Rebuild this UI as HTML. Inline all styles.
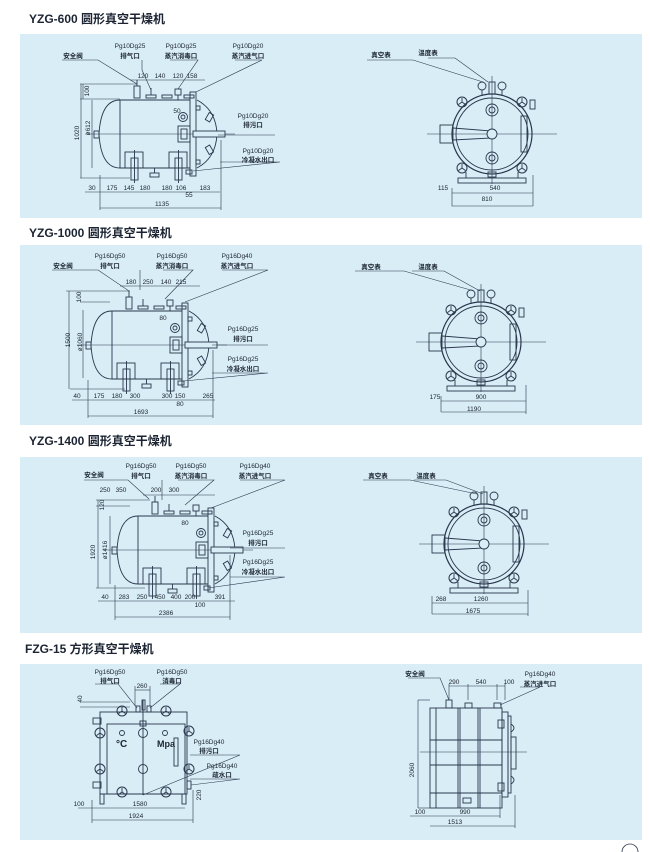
<!DOCTYPE html>
<html><head><meta charset="utf-8">
<style>
html,body{margin:0;padding:0;background:#fff;}
svg{display:block;}
text{font-family:"Liberation Sans","Noto Sans CJK SC",sans-serif;fill:#1c2433;}
.t{font-size:12px;font-weight:bold;}
.s{font-size:6.5px;text-anchor:middle;}
.c{font-size:6.5px;text-anchor:middle;font-weight:bold;}
</style></head><body>
<svg width="650" height="852" viewBox="0 0 650 852" xmlns="http://www.w3.org/2000/svg">
<defs>
<g id="hw"><circle r="5" fill="none" stroke="#2a364d" stroke-width="1"/><path d="M0,0V-4M0,0L3.5,2.5M0,0L-3.5,2.5" stroke="#2a364d" stroke-width="0.9"/></g>
<g id="tank" fill="none" stroke="#2a364d" stroke-width="0.9">
<path d="M120,100 H190 M190,168 H120 Q101,168 99,134 Q101,100 120,100" />
<path d="M197,100 Q216,110 217,134 Q216,158 197,168"/>
<line x1="120" y1="100" x2="120" y2="168"/>
<rect x="190" y="92" width="6" height="84"/>
<line x1="85" y1="134" x2="235" y2="134" stroke-width="0.6"/>
<rect x="193" y="131" width="32" height="6" fill="#d8edf5"/>
<rect x="178" y="126" width="12" height="16"/>
<rect x="181" y="129" width="6" height="10"/>
<circle cx="183" cy="117" r="4.5"/><circle cx="183" cy="117" r="2"/>
<rect x="134" y="86" width="6" height="12"/><line x1="137" y1="80" x2="137" y2="86"/>
<rect x="146" y="95" width="10" height="3"/><line x1="151" y1="88" x2="151" y2="95"/>
<rect x="162" y="95" width="10" height="3"/>
<rect x="175" y="89" width="6" height="6"/><line x1="178" y1="95" x2="178" y2="100"/>
<rect x="184" y="95" width="10" height="3"/>
<rect x="125" y="152" width="18" height="16"/><rect x="131" y="158" width="7" height="22"/><line x1="134.5" y1="150" x2="134.5" y2="183"/>
<rect x="169" y="152" width="18" height="16"/><rect x="175" y="158" width="7" height="22"/><line x1="178.5" y1="150" x2="178.5" y2="183"/>
<rect x="150" y="173" width="9" height="4"/><line x1="154.5" y1="168" x2="154.5" y2="173"/>
<rect x="207" y="113" width="5" height="8" transform="rotate(30 209 117)"/>
<rect x="207" y="146" width="5" height="8" transform="rotate(-30 209 150)"/>
<rect x="196" y="106" width="4" height="4"/><rect x="196" y="160" width="4" height="4"/>
<rect x="186" y="170" width="6" height="4"/>
<rect x="94" y="131" width="5" height="7"/>
</g>
<g id="cv" fill="none" stroke="#2a364d" stroke-width="0.9">
<line x1="-65" y1="0" x2="65" y2="0" stroke-width="0.6"/>
<line x1="0" y1="-58" x2="0" y2="50" stroke-width="0.6"/>
<circle r="40" stroke-width="1.2"/><circle r="36"/>
<use href="#hw" x="-30" y="-32"/><use href="#hw" x="30" y="-32"/>
<use href="#hw" x="-30" y="34"/><use href="#hw" x="30" y="34"/>
<circle cx="-10" cy="-48" r="4"/><circle cx="10" cy="-48" r="4"/>
<line x1="-10" y1="-44" x2="-10" y2="-38"/><line x1="10" y1="-44" x2="10" y2="-38"/>
<rect x="-3" y="-52" width="6" height="12"/>
<circle cx="0" cy="-24" r="6"/><circle cx="0" cy="-24" r="3"/>
<circle cx="0" cy="24" r="6"/><circle cx="0" cy="24" r="3"/>
<rect x="-52" y="-9" width="13" height="18"/>
<path d="M-39,-6 L0,-3 L0,4 L-39,6"/>
<circle cx="0" cy="0" r="5" fill="#d8edf5"/>
<rect x="29" y="-18" width="6" height="36"/>
<rect x="38" y="-34" width="5" height="9"/>
<line x1="-26" y1="38" x2="-26" y2="44"/><line x1="26" y1="38" x2="26" y2="44"/>
<rect x="-34" y="44" width="68" height="5"/>
<rect x="-4" y="38" width="8" height="5"/>
</g>
</defs>

<!-- Panels -->
<rect x="20" y="34" width="622" height="184" fill="#d8edf5"/>
<rect x="20" y="245" width="622" height="180" fill="#d8edf5"/>
<rect x="20" y="457" width="622" height="176" fill="#d8edf5"/>
<rect x="20" y="664" width="622" height="176" fill="#d8edf5"/>

<text class="t" x="29" y="23">YZG-600 圆形真空干燥机</text>
<text class="t" x="29" y="237">YZG-1000 圆形真空干燥机</text>
<text class="t" x="29" y="445">YZG-1400 圆形真空干燥机</text>
<text class="t" x="25" y="653">FZG-15 方形真空干燥机</text>

<!-- Panel 1 -->
<use href="#tank"/>
<g stroke="#2a364d" stroke-width="0.6" fill="none">
<path d="M62,60H98L137,84M142,60V70L151,90M170,60H198L178,89M235,60H262L196,92M218,135H275M220,162H280L193,171"/>
<line x1="130" y1="80" x2="205" y2="80"/><line x1="80" y1="84" x2="137" y2="84"/><line x1="80" y1="99" x2="120" y2="99"/>
<line x1="80" y1="178" x2="130" y2="178"/><line x1="83" y1="84" x2="83" y2="99"/><line x1="81" y1="84" x2="81" y2="178"/><line x1="92" y1="100" x2="92" y2="168"/>
<line x1="85" y1="192" x2="220" y2="192"/><line x1="100" y1="208" x2="221" y2="208"/>
<line x1="100" y1="175" x2="100" y2="210"/><line x1="221" y1="140" x2="221" y2="210"/>
</g>
<text class="c" x="73" y="58">安全阀</text>
<text class="s" x="130" y="48">Pg10Dg25</text><text class="c" x="130" y="58">排气口</text>
<text class="s" x="181" y="48">Pg10Dg25</text><text class="c" x="181" y="58">蒸汽消毒口</text>
<text class="s" x="248" y="48">Pg10Dg20</text><text class="c" x="248" y="58">蒸汽进气口</text>
<text class="s" x="143" y="78">120</text><text class="s" x="160" y="78">140</text><text class="s" x="178" y="78">120</text><text class="s" x="192" y="78">158</text>
<text class="s" transform="translate(89,91) rotate(-90)">100</text>
<text class="s" transform="translate(79,133) rotate(-90)">1020</text>
<text class="s" transform="translate(90,128) rotate(-90)">ø612</text>
<text class="s" x="177" y="113">50</text>
<text class="s" x="253" y="118">Pg10Dg20</text><text class="c" x="253" y="127">排污口</text>
<text class="s" x="258" y="153">Pg10Dg20</text><text class="c" x="258" y="162">冷凝水出口</text>
<text class="s" x="92" y="190">30</text><text class="s" x="112" y="190">175</text><text class="s" x="129" y="190">145</text><text class="s" x="145" y="190">180</text><text class="s" x="167" y="190">180</text><text class="s" x="181" y="190">106</text><text class="s" x="189" y="197">55</text><text class="s" x="205" y="190">183</text>
<text class="s" x="162" y="206">1135</text>

<use href="#cv" x="492" y="134"/>
<g stroke="#2a364d" stroke-width="0.6" fill="none">
<path d="M367,60H413L483,82M428,58H455L488,82M452,188V200M452,193H533M452,200V206H533"/>
<line x1="533" y1="175" x2="533" y2="206"/>
</g>
<text class="c" x="381" y="57">真空表</text><text class="c" x="428" y="55">温度表</text>
<text class="s" x="443" y="190">115</text><text class="s" x="495" y="190">540</text><text class="s" x="487" y="201">810</text>

<!-- Panel 2 -->
<use href="#tank" transform="translate(-8,211) scale(1.0,1.0)"/>
<g stroke="#2a364d" stroke-width="0.6" fill="none">
<path d="M52,270H98L129,291M140,270V290M163,270H193L165,299M222,270H268L185,302M212,345H268M212,373H268L184,381"/>
<line x1="120" y1="286" x2="200" y2="286"/><line x1="66" y1="291" x2="130" y2="291"/><line x1="80" y1="302" x2="110" y2="302"/>
<line x1="70" y1="389" x2="125" y2="389"/><line x1="69" y1="291" x2="69" y2="389"/><line x1="83" y1="310" x2="83" y2="378"/>
<line x1="72" y1="400" x2="215" y2="400"/><line x1="88" y1="416" x2="213" y2="416"/>
<line x1="88" y1="380" x2="88" y2="418"/><line x1="213" y1="350" x2="213" y2="418"/>
</g>
<text class="c" x="63" y="268">安全阀</text>
<text class="s" x="110" y="258">Pg16Dg50</text><text class="c" x="110" y="268">排气口</text>
<text class="s" x="172" y="258">Pg16Dg50</text><text class="c" x="172" y="268">蒸汽消毒口</text>
<text class="s" x="237" y="258">Pg16Dg40</text><text class="c" x="237" y="268">蒸汽进气口</text>
<text class="s" x="131" y="284">180</text><text class="s" x="148" y="284">250</text><text class="s" x="166" y="284">140</text><text class="s" x="181" y="284">215</text>
<text class="s" transform="translate(81,297) rotate(-90)">100</text>
<text class="s" transform="translate(70,340) rotate(-90)">1500</text>
<text class="s" transform="translate(82,342) rotate(-90)">ø1060</text>
<text class="s" x="163" y="320">80</text>
<text class="s" x="243" y="331">Pg16Dg25</text><text class="c" x="243" y="341">排污口</text>
<text class="s" x="243" y="361">Pg16Dg25</text><text class="c" x="243" y="371">冷凝水出口</text>
<text class="s" x="77" y="398">40</text><text class="s" x="99" y="398">175</text><text class="s" x="117" y="398">180</text><text class="s" x="135" y="398">300</text><text class="s" x="167" y="398">300</text><text class="s" x="180" y="398">150</text><text class="s" x="180" y="406">80</text><text class="s" x="208" y="398">265</text>
<text class="s" x="141" y="414">1693</text>

<use href="#cv" x="481" y="342"/>
<g stroke="#2a364d" stroke-width="0.6" fill="none">
<path d="M355,271H404L474,291M412,271H444L480,291M441,396V412M441,401H526M441,412H526"/>
<line x1="526" y1="385" x2="526" y2="414"/>
</g>
<text class="c" x="371" y="269">真空表</text><text class="c" x="428" y="269">温度表</text>
<text class="s" x="435" y="399">175</text><text class="s" x="481" y="399">900</text><text class="s" x="474" y="411">1190</text>

<!-- Panel 3 -->
<use href="#tank" transform="translate(18,416)"/>
<g stroke="#2a364d" stroke-width="0.6" fill="none">
<path d="M84,480H128L149,499M162,480V500M178,480H214L185,505M240,480H285L211,508M230,548H285M230,577H285L208,588"/>
<line x1="143" y1="495" x2="215" y2="495"/><line x1="96" y1="500" x2="150" y2="500"/><line x1="96" y1="506" x2="130" y2="506"/>
<line x1="96" y1="588" x2="145" y2="588"/><line x1="98" y1="500" x2="98" y2="588"/><line x1="110" y1="516" x2="110" y2="584"/>
<line x1="98" y1="601" x2="235" y2="601"/><line x1="115" y1="617" x2="230" y2="617"/>
<line x1="115" y1="585" x2="115" y2="620"/><line x1="230" y1="555" x2="230" y2="620"/>
</g>
<text class="c" x="94" y="477">安全阀</text>
<text class="s" x="141" y="468">Pg16Dg50</text><text class="c" x="141" y="478">排气口</text>
<text class="s" x="191" y="468">Pg16Dg50</text><text class="c" x="191" y="478">蒸汽消毒口</text>
<text class="s" x="255" y="468">Pg16Dg40</text><text class="c" x="255" y="478">蒸汽进气口</text>
<text class="s" x="105" y="492">250</text><text class="s" x="121" y="492">350</text><text class="s" x="156" y="492">200</text><text class="s" x="174" y="492">300</text>
<text class="s" transform="translate(104,505) rotate(-90)">120</text>
<text class="s" transform="translate(95,552) rotate(-90)">1920</text>
<text class="s" transform="translate(107,550) rotate(-90)">ø1416</text>
<text class="s" x="185" y="525">80</text>
<text class="s" x="258" y="535">Pg16Dg25</text><text class="c" x="258" y="545">排污口</text>
<text class="s" x="258" y="564">Pg16Dg25</text><text class="c" x="258" y="574">冷凝水出口</text>
<text class="s" x="105" y="599">40</text><text class="s" x="124" y="599">283</text><text class="s" x="142" y="599">250</text><text class="s" x="160" y="599">450</text><text class="s" x="176" y="599">400</text><text class="s" x="190" y="599">200</text><text class="s" x="200" y="607">100</text><text class="s" x="220" y="599">391</text>
<text class="s" x="166" y="615">2386</text>

<use href="#cv" x="484" y="544"/>
<g stroke="#2a364d" stroke-width="0.6" fill="none">
<path d="M363,480H410L477,494M414,480H446L483,494M432,596V614M432,603H528M432,614H528"/>
<line x1="528" y1="590" x2="528" y2="616"/>
</g>
<text class="c" x="378" y="478">真空表</text><text class="c" x="426" y="478">温度表</text>
<text class="s" x="441" y="601">268</text><text class="s" x="481" y="601">1260</text><text class="s" x="473" y="613">1675</text>

<!-- Panel 4 left -->
<g fill="none" stroke="#2a364d" stroke-width="0.9">
<rect x="100" y="712" width="87" height="82"/>
<rect x="107" y="724" width="78" height="70"/>
<line x1="143" y1="700" x2="143" y2="795"/>
<rect x="140" y="721" width="6" height="5"/>
<circle cx="143" cy="733" r="4.5"/><circle cx="143" cy="769" r="4.5"/>
<circle cx="122" cy="733" r="2.5"/><circle cx="165" cy="733" r="2.5"/>
<rect x="174" y="738" width="4" height="28"/>
<rect x="136" y="706" width="4" height="6"/><rect x="147" y="706" width="4" height="6"/>
<rect x="142" y="700" width="3" height="10"/>
<rect x="93" y="718" width="8" height="6"/><rect x="93" y="782" width="8" height="6"/>
<rect x="187" y="781" width="4" height="8"/>
<rect x="100" y="794" width="4" height="10"/><rect x="182" y="794" width="4" height="10"/>
</g>
<use href="#hw" x="122" y="711"/><use href="#hw" x="166" y="711"/>
<use href="#hw" x="100" y="733"/><use href="#hw" x="100" y="769"/>
<use href="#hw" x="189" y="731"/><use href="#hw" x="189" y="769"/>
<use href="#hw" x="122" y="792"/><use href="#hw" x="166" y="792"/>
<g stroke="#2a364d" stroke-width="0.6" fill="none">
<path d="M95,684H118L137,708M160,684H180L150,708M190,755H240L143,795M190,779H240L191,785"/>
<line x1="135" y1="690" x2="150" y2="690"/><line x1="135" y1="686" x2="135" y2="706"/><line x1="150" y1="686" x2="150" y2="706"/>
<line x1="80" y1="702" x2="130" y2="702"/><line x1="80" y1="707" x2="130" y2="707"/>
<line x1="78" y1="808" x2="185" y2="808"/><line x1="92" y1="820" x2="193" y2="820"/>
<line x1="92" y1="800" x2="92" y2="823"/><line x1="193" y1="790" x2="193" y2="823"/>
</g>
<text class="s" x="110" y="674">Pg16Dg50</text><text class="c" x="110" y="683">排气口</text>
<text class="s" x="172" y="674">Pg16Dg50</text><text class="c" x="172" y="683">消毒口</text>
<text class="s" x="142" y="688">260</text>
<text class="s" transform="translate(82,699) rotate(-90)">40</text>
<text x="116" y="747" style="font-size:10px;font-weight:bold">°C</text>
<text x="157" y="747" style="font-size:9px;font-weight:bold">Mpa</text>
<text class="s" x="209" y="744">Pg16Dg40</text><text class="c" x="209" y="753">排污口</text>
<text class="s" x="222" y="768">Pg16Dg40</text><text class="c" x="222" y="777">疏水口</text>
<text class="s" x="79" y="806">100</text><text class="s" x="140" y="806">1580</text><text class="s" x="136" y="818">1924</text>
<text class="s" transform="translate(201,795) rotate(-90)">220</text>

<!-- Panel 4 right -->
<g fill="none" stroke="#2a364d" stroke-width="0.9">
<rect x="430" y="708" width="72" height="100"/>
<line x1="436" y1="708" x2="436" y2="808"/><line x1="458" y1="708" x2="458" y2="808"/><line x1="478" y1="708" x2="478" y2="808"/>
<line x1="460" y1="708" x2="460" y2="808"/><line x1="480" y1="708" x2="480" y2="808"/>
<line x1="430" y1="740" x2="502" y2="740"/><line x1="430" y1="765" x2="502" y2="765"/><line x1="430" y1="793" x2="502" y2="793"/>
<rect x="502" y="712" width="6" height="85"/><rect x="508" y="716" width="3" height="77"/>
<rect x="511" y="737" width="5" height="32"/>
<path d="M511,724 q6,4 0,8 M511,776 q6,4 0,8"/>
<rect x="498" y="720" width="6" height="8"/><rect x="498" y="783" width="6" height="8"/>
<rect x="446" y="700" width="6" height="8"/><rect x="465" y="703" width="7" height="5"/><rect x="494" y="703" width="7" height="5"/>
<rect x="463" y="798" width="8" height="5"/>
<line x1="420" y1="752" x2="527" y2="752" stroke-width="0.6"/>
</g>
<g stroke="#2a364d" stroke-width="0.6" fill="none">
<path d="M408,678H440L449,700M520,687H540L500,705"/>
<line x1="449" y1="686" x2="505" y2="686"/>
<line x1="449" y1="684" x2="449" y2="700"/><line x1="468" y1="684" x2="468" y2="700"/><line x1="497" y1="684" x2="497" y2="700"/><line x1="505" y1="684" x2="505" y2="700"/>
<line x1="418" y1="700" x2="430" y2="700"/><line x1="418" y1="808" x2="430" y2="808"/><line x1="418" y1="700" x2="418" y2="808"/>
<line x1="410" y1="816" x2="500" y2="816"/><line x1="430" y1="826" x2="515" y2="826"/>
<line x1="500" y1="795" x2="500" y2="818"/><line x1="515" y1="795" x2="515" y2="828"/>
</g>
<text class="c" x="415" y="676">安全阀</text>
<text class="s" x="454" y="684">290</text><text class="s" x="481" y="684">540</text><text class="s" x="509" y="684">100</text>
<text class="s" x="540" y="676">Pg16Dg40</text><text class="c" x="540" y="686">蒸汽进气口</text>
<text class="s" transform="translate(414,770) rotate(-90)">2060</text>
<text class="s" x="420" y="814">100</text><text class="s" x="465" y="814">990</text><text class="s" x="455" y="824">1513</text>

<path d="M622,852 A8,8 0 0 1 638,852" fill="none" stroke="#2a364d" stroke-width="0.8"/>
</svg>
</body></html>
